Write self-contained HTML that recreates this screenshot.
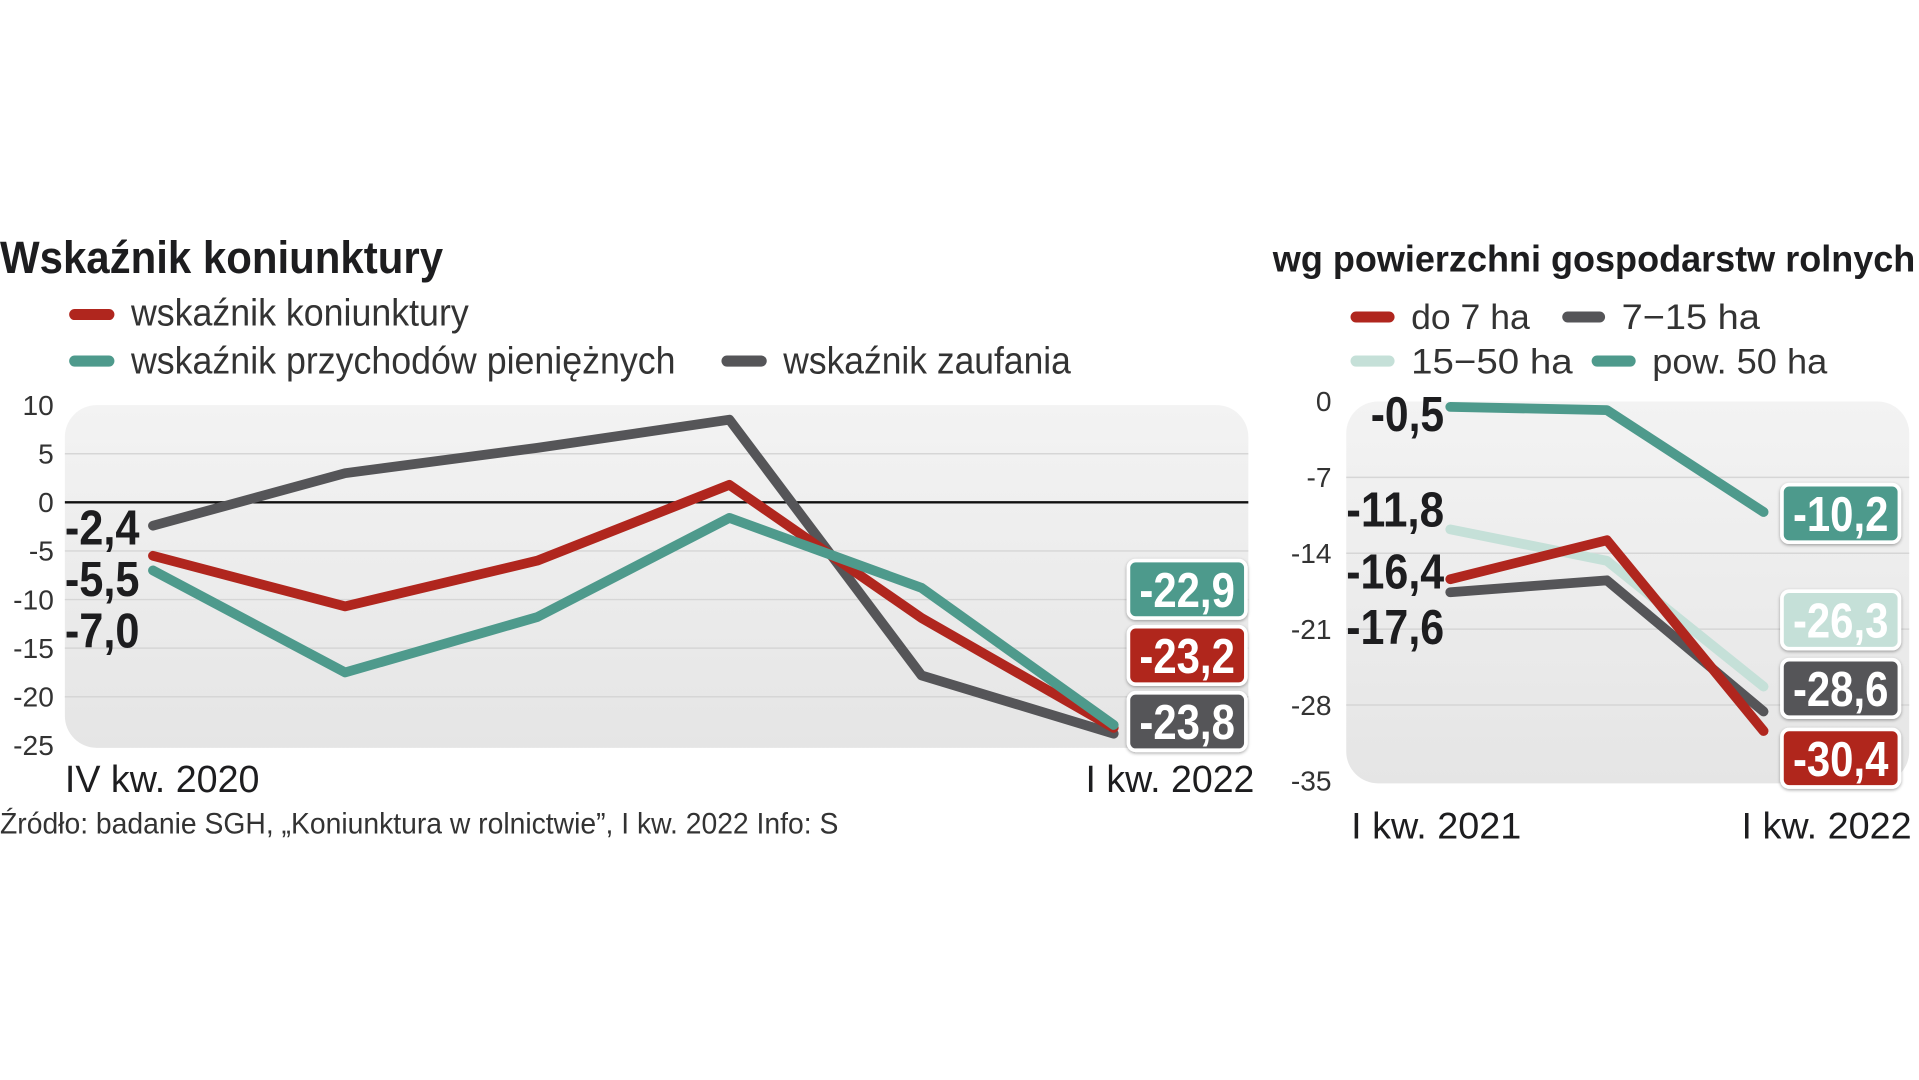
<!DOCTYPE html>
<html><head><meta charset="utf-8"><style>
html,body{margin:0;padding:0;background:#fff;width:1919px;height:1080px;overflow:hidden}
svg{display:block}
.cn{font-family:"Liberation Sans Narrow","Liberation Sans",sans-serif}
.sn{font-family:"Liberation Sans","DejaVu Sans",sans-serif}
</style></head><body>
<svg id="svg" width="1919" height="1080" viewBox="0 0 1568 882.4" preserveAspectRatio="none" xmlns="http://www.w3.org/2000/svg">
<defs>
<linearGradient id="bg" x1="0" y1="0" x2="0" y2="1"><stop offset="0" stop-color="#f3f3f3"/><stop offset="1" stop-color="#e5e5e5"/></linearGradient>
<filter id="sh" x="-20%" y="-20%" width="140%" height="150%"><feDropShadow dx="0" dy="1" stdDeviation="1.2" flood-color="#000" flood-opacity="0.35"/></filter>
</defs>
<text class="cn" x="0" y="223" font-size="37" font-weight="bold" fill="#1d1d1f" textLength="362" lengthAdjust="spacingAndGlyphs">Wskaźnik koniunktury</text>
<g>
<line x1="61" y1="257" x2="89" y2="257" stroke="#b0261e" stroke-width="9" stroke-linecap="round"/>
<text class="cn" x="107" y="266" font-size="31" fill="#333" textLength="276" lengthAdjust="spacingAndGlyphs">wskaźnik koniunktury</text>
<line x1="61" y1="295" x2="89" y2="295" stroke="#4e9a8c" stroke-width="9" stroke-linecap="round"/>
<text class="cn" x="107" y="305" font-size="31" fill="#333" textLength="445" lengthAdjust="spacingAndGlyphs">wskaźnik przychodów pieniężnych</text>
<line x1="594" y1="295" x2="622" y2="295" stroke="#555558" stroke-width="9" stroke-linecap="round"/>
<text class="cn" x="640" y="305" font-size="31" fill="#333" textLength="235" lengthAdjust="spacingAndGlyphs">wskaźnik zaufania</text>
</g>
<text class="cn" x="53" y="647" font-size="31" fill="#1d1d1f" textLength="159" lengthAdjust="spacingAndGlyphs">IV kw. 2020</text>
<text class="cn" x="887" y="647" font-size="31" fill="#1d1d1f" textLength="138" lengthAdjust="spacingAndGlyphs">I kw. 2022</text>
<text class="cn" x="0" y="681" font-size="24" fill="#333" textLength="685" lengthAdjust="spacingAndGlyphs">Źródło: badanie SGH, „Koniunktura w rolnictwie”, I kw. 2022  Info: S</text>
<text class="sn" x="1040" y="222" font-size="30" font-weight="bold" fill="#1d1d1f" textLength="525" lengthAdjust="spacingAndGlyphs">wg powierzchni gospodarstw rolnych</text>
<g>
<line x1="1108" y1="259" x2="1135" y2="259" stroke="#b0261e" stroke-width="9" stroke-linecap="round"/>
<text class="sn" x="1153" y="269" font-size="29" fill="#333" textLength="97" lengthAdjust="spacingAndGlyphs">do 7 ha</text>
<line x1="1281" y1="259" x2="1307" y2="259" stroke="#555558" stroke-width="9" stroke-linecap="round"/>
<text class="sn" x="1325" y="269" font-size="29" fill="#333" textLength="113" lengthAdjust="spacingAndGlyphs">7−15 ha</text>
<line x1="1108" y1="295" x2="1135" y2="295" stroke="#c5e0d8" stroke-width="9" stroke-linecap="round"/>
<text class="sn" x="1153" y="305" font-size="29" fill="#333" textLength="132" lengthAdjust="spacingAndGlyphs">15−50 ha</text>
<line x1="1305" y1="295" x2="1332" y2="295" stroke="#4e9a8c" stroke-width="9" stroke-linecap="round"/>
<text class="sn" x="1350" y="305" font-size="29" fill="#333" textLength="143" lengthAdjust="spacingAndGlyphs">pow. 50 ha</text>
</g>
<text class="sn" x="1104" y="685" font-size="30" fill="#1d1d1f" textLength="139" lengthAdjust="spacingAndGlyphs">I kw. 2021</text>
<text class="sn" x="1423" y="685" font-size="30" fill="#1d1d1f" textLength="139" lengthAdjust="spacingAndGlyphs">I kw. 2022</text>
<g id="left"></g>
<g id="right"></g>
</svg>
<script>
// Left chart data
const leftCats = ["IV 2020","I 2021","II 2021","III 2021","IV 2021","I 2022"];
const leftTicks = [10,5,0,-5,-10,-15,-20,-25];
const koniunktura = [-5.5,-10.7,-6.0,1.8,-11.9,-23.2];
const przychody = [-7.0,-17.5,-11.8,-1.6,-8.8,-22.9];
const zaufanie = [-2.4,3.0,5.6,8.5,-17.8,-23.8];
// Right chart data
const rightCats = ["I 2021","IV 2021","I 2022"];
const rightTicks = [0,-7,-14,-21,-28,-35];
const do7 = [-16.4,-12.8,-30.4];
const ha7_15 = [-17.6,-16.5,-28.6];
const ha15_50 = [-11.8,-14.7,-26.3];
const pow50 = [-0.5,-0.8,-10.2];

const NS="http://www.w3.org/2000/svg";
function mk(parent,tag,attrs,text){const e=document.createElementNS(NS,tag);for(const k in attrs)e.setAttribute(k,attrs[k]);if(text!==undefined)e.textContent=text;parent.appendChild(e);return e;}
const fmt=v=>(v<0?"-":"")+Math.abs(v).toFixed(1).replace(".",",");

function chart(g,o){
  const y=v=>o.y0+(o.top-v)/(o.top-o.bot)*(o.y1-o.y0);
  const x=i=>o.x0+i*(o.x1-o.x0)/(o.n-1);
  const bg=mk(g,'rect',{x:o.bx0,y:o.y0,width:o.bx1-o.bx0,height:o.y1-o.y0+2,rx:26,fill:'url(#bg)'});
  
  
  o.ticks.forEach(t=>{
    if(t!==o.top&&t!==o.bot){
      const l=mk(g,'line',{x1:o.bx0,x2:o.bx1,y1:y(t),y2:y(t),stroke:t===0&&o.zero?'#111':'#d6d6d6','stroke-width':t===0&&o.zero?2:1.2});
      
      
    }
    const tx=mk(g,'text',{x:o.tickX,y:y(t)+8,'font-size':23,fill:'#333','text-anchor':'end','class':'sn'},String(t));
    
    
  });
  o.series.forEach(s=>{
    const p=mk(g,'polyline',{points:s.v.map((v,i)=>x(i)+','+y(v)).join(' '),fill:'none',stroke:s.c,'stroke-width':8,'stroke-linejoin':'round','stroke-linecap':'round'});
    
    
  });
  o.series.forEach(s=>{
    const txt=fmt(s.v[0]);
    const lt=mk(g,'text',{x:o.lblX-s.lw,y:s.ly,'font-size':40,'font-weight':'bold',fill:'#1d1d1f','class':'cn',textLength:s.lw,lengthAdjust:'spacingAndGlyphs'},txt);
    
    
    const bx=mk(g,'g',{});
    
    
    mk(bx,'rect',{x:o.boxX,y:s.by,width:96,height:47,rx:6,fill:s.c,stroke:'#fff','stroke-width':3,filter:'url(#sh)'});
    mk(bx,'text',{x:o.boxX+9,y:s.by+38,'font-size':40,'font-weight':'bold',fill:'#fff','class':'cn',textLength:78,lengthAdjust:'spacingAndGlyphs'},fmt(s.v[s.v.length-1]));
  });
}
chart(document.getElementById('left'),{x0:125,x1:910,n:leftCats.length,y0:331,y1:609,top:10,bot:-25,bx0:53,bx1:1020,ticks:leftTicks,tickX:44,zero:true,lblX:114,boxX:922,
  series:[
   {name:'zaufania',v:zaufanie,c:'#555558',ly:445,lw:61,by:566},
   {name:'koniunktury',v:koniunktura,c:'#b0261e',ly:487,lw:61,by:512},
   {name:'przychodow',v:przychody,c:'#4e9a8c',ly:529,lw:61,by:458}
  ]});
chart(document.getElementById('right'),{x0:1185,x1:1441,n:rightCats.length,y0:328,y1:638,top:0,bot:-35,bx0:1100,bx1:1560,ticks:rightTicks,tickX:1088,zero:false,lblX:1180,boxX:1456,
  series:[
   {name:'15-50',v:ha15_50,c:'#c5e0d8',ly:430,lw:80,by:483},
   {name:'7-15',v:ha7_15,c:'#555558',ly:526,lw:80,by:539},
   {name:'do7',v:do7,c:'#b0261e',ly:481,lw:80,by:596},
   {name:'pow50',v:pow50,c:'#4e9a8c',ly:352,lw:60,by:396}
  ]});
</script>
</body></html>
